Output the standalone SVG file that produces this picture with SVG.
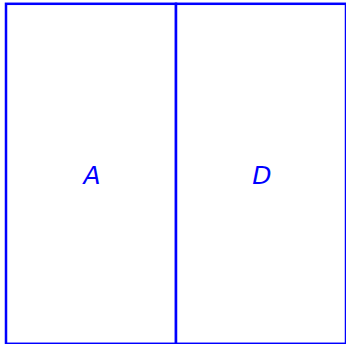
<svg xmlns="http://www.w3.org/2000/svg" width="346" height="344" viewBox="0 0 346 344">
<style>
.cell{fill:#fff;stroke:#0000ff;stroke-width:2.5}
.lbl{font-family:"DejaVu Sans",sans-serif;font-style:italic;font-size:25px;fill:#0000ff;text-anchor:middle}
</style>
<rect width="346" height="344" fill="#fff"/>
<g id="A">
<rect class="cell" x="6" y="3.8" width="170" height="340"/>
<text class="lbl" x="92" y="184">A</text>
</g>
<g id="D">
<rect class="cell" x="176" y="3.8" width="170" height="340"/>
<text class="lbl" x="262" y="184">D</text>
</g>
<g id="connectors"></g>
</svg>
